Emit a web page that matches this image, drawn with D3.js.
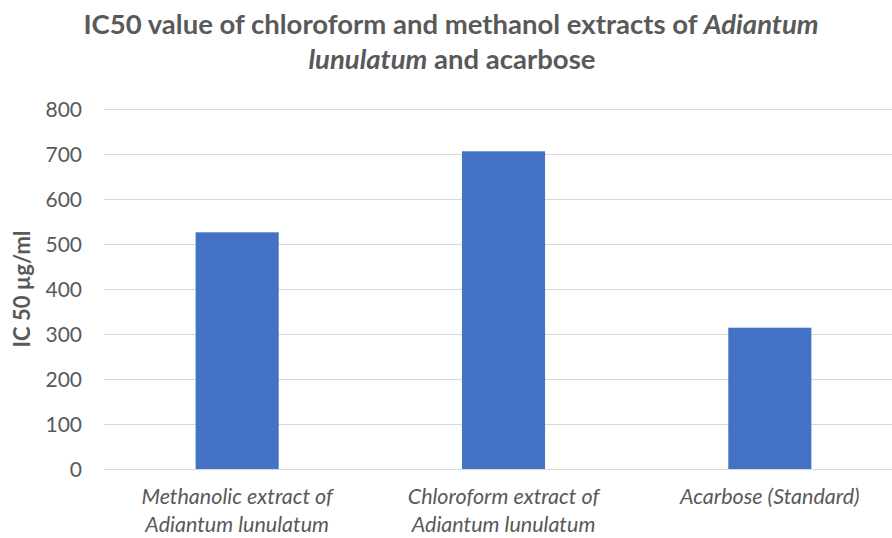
<!DOCTYPE html>
<html>
<head>
<meta charset="utf-8">
<style>
body { margin: 0; background: #fff; }
svg { font-family: Lato, "Open Sans", sans-serif; }
.grid line { stroke: #d9d9d9; stroke-width: 1; }
.grid path { display: none; }
.axis--y path, .axis--y line { display: none; }
.axis--y text { fill: #595959; font-size: 21px; font-family: Lato, sans-serif; }
.xlabel { fill: #595959; font-size: 21.5px; font-style: italic; }
.title { fill: #595959; font-weight: bold; }
.ytitle { fill: #595959; font-weight: bold; font-size: 22px; }
</style>
</head>
<body>
<svg width="892" height="538"></svg>
<script src="https://d3js.org/d3.v7.min.js"></script>
<script>

// data
var categories = ["Methanolic extract of Adiantum lunulatum",
                  "Chloroform extract of Adiantum lunulatum",
                  "Acarbose (Standard)"];
var labelLines = [["Methanolic extract of", "Adiantum lunulatum"],
                  ["Chloroform extract of", "Adiantum lunulatum"],
                  ["Acarbose (Standard)"]];
var ic50 = [526, 706, 314];
var yTicks = [0, 100, 200, 300, 400, 500, 600, 700, 800];

var svg = d3.select("svg"),
    margin = {top: 109, right: -11, bottom: 69, left: 104},
    width = +svg.attr("width") - margin.left - margin.right,
    height = +svg.attr("height") - margin.top - margin.bottom;

var g = svg.append("g")
    .attr("transform", "translate(" + margin.left + "," + margin.top + ")");

var x = d3.scaleBand()
    .domain(categories)
    .range([0, width])
    .paddingInner(0.688)
    .paddingOuter(0.344);

var y = d3.scaleLinear()
    .domain([0, 800])
    .range([height, 0]);

// gridlines
g.append("g")
    .attr("class", "grid")
    .call(d3.axisLeft(y).tickValues(yTicks).tickSize(-width).tickFormat(""));

// y axis labels
g.append("g")
    .attr("class", "axis axis--y")
    .call(d3.axisLeft(y).tickValues(yTicks).tickSize(0).tickPadding(22))
    .call(function(a) { a.attr("font-size", null).attr("font-family", null); a.selectAll("text").attr("dy", "0.35em"); });

// bars
g.selectAll(".bar")
    .data(ic50)
    .enter().append("rect")
    .attr("class", "bar")
    .attr("x", function(d, i) { return x(categories[i]); })
    .attr("width", x.bandwidth())
    .attr("y", function(d) { return y(d); })
    .attr("height", function(d) { return height - y(d); })
    .attr("fill", "#4472c4");

// x labels
labelLines.forEach(function(lines, i) {
    var t = g.append("text")
        .attr("class", "xlabel")
        .attr("text-anchor", "middle")
        .attr("x", x(categories[i]) + x.bandwidth() / 2)
        .attr("y", height + 35);
    lines.forEach(function(l, j) {
        t.append("tspan")
            .attr("x", x(categories[i]) + x.bandwidth() / 2)
            .attr("dy", j === 0 ? 0 : 28)
            .text(l);
    });
});

// y title
svg.append("text")
    .attr("class", "ytitle")
    .attr("text-anchor", "middle")
    .attr("transform", "translate(30,289) rotate(-90)")
    .text("IC 50 µg/ml");

// title
var title = svg.append("text")
    .attr("class", "title")
    .attr("text-anchor", "middle")
    .style("font-size", "27.5px");
var l1 = title.append("tspan").attr("x", 451).attr("y", 34);
l1.append("tspan").text("IC50 value of chloroform and methanol extracts of ");
l1.append("tspan").style("font-style", "italic").text("Adiantum");
var l2 = title.append("tspan").attr("x", 452).attr("y", 69);
l2.append("tspan").style("font-style", "italic").text("lunulatum");
l2.append("tspan").text(" and acarbose");

</script>
</body>
</html>
